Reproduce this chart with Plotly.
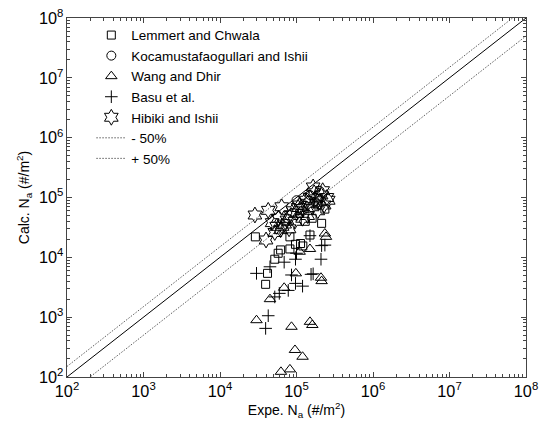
import plotly.graph_objects as go

# ---- data ----
lemmert_x = [29e3, 82e3, 97e3, 121e3, 62e3, 82e3, 57.6e3, 52e3, 41.8e3, 39.5e3,
             213e3, 150e3, 235e3, 110e3, 160e3, 190e3, 130e3, 113e3]
lemmert_y = [22e3, 22e3, 16.5e3, 15.5e3, 13.3e3, 13.8e3, 11.7e3, 9.3e3, 5.4e3, 3.54e3,
             37e3, 23.6e3, 64e3, 54e3, 45e3, 75e3, 40e3, 17e3]

koca_x = [100e3, 150e3, 200e3, 180e3, 120e3]
koca_y = [90e3, 110e3, 130e3, 80e3, 60e3]

wang_x = [30e3, 86e3, 150e3, 161e3, 95.5e3, 120e3, 62.6e3, 82e3, 45e3, 69e3,
          98e3, 209e3, 213e3, 110e3, 150e3, 243e3, 235e3]
wang_y = [890, 690, 835, 740, 283, 218, 122, 134, 2000, 3100,
          5400, 4560, 4000, 12.4e3, 13.8e3, 22e3, 25e3]

basu_x = [42.7e3, 39.5e3, 52e3, 59.6e3, 78e3, 97e3, 120e3, 30e3, 86e3, 155e3,
          165e3, 45e3, 69e3, 97e3, 100e3, 213e3, 209e3, 150e3, 235e3]
basu_y = [1057, 650, 2180, 2500, 2800, 3670, 3300, 5400, 5070, 5200,
          5300, 6950, 8300, 9300, 11.7e3, 15.7e3, 9300, 23e3, 16e3]

hibiki_x = [28.6e3, 42.7e3, 64e3, 40e3, 48e3, 55e3, 62e3, 70e3, 75e3, 52e3,
            58e3, 85e3, 90e3, 100e3, 110e3, 120e3, 130e3, 140e3, 150e3, 160e3,
            170e3, 180e3, 200e3, 210e3, 230e3, 250e3, 260e3, 140e3, 120e3, 95e3,
            80e3, 190e3, 165e3, 65e3, 105e3, 220e3]
hibiki_y = [51e3, 61e3, 70e3, 19.5e3, 38e3, 33e3, 29e3, 36e3, 42e3, 26e3,
            45e3, 50e3, 60e3, 55e3, 75e3, 65e3, 90e3, 80e3, 100e3, 70e3,
            120e3, 95e3, 85e3, 110e3, 75e3, 100e3, 90e3, 50e3, 45e3, 40e3,
            30e3, 60e3, 150e3, 33e3, 68e3, 130e3]

line_x = [1e2, 1e8]
minus_factor = 0.5
plus_factor = 1.5

FONT = "Liberation Sans, Arial, sans-serif"
mk_line = dict(color="black", width=1)
DOTS = "1.5px,1.5px"

fig = go.Figure()

fig.add_trace(go.Scatter(x=lemmert_x, y=lemmert_y, mode="markers", name="Lemmert and Chwala",
                         marker=dict(symbol="square-open", size=8, color="black", line=mk_line)))
fig.add_trace(go.Scatter(x=koca_x, y=koca_y, mode="markers", name="Kocamustafaogullari and Ishii",
                         marker=dict(symbol="circle-open", size=9, color="black", line=mk_line)))
fig.add_trace(go.Scatter(x=wang_x, y=wang_y, mode="markers", name="Wang and Dhir",
                         marker=dict(symbol="triangle-up-open", size=10, color="black", line=mk_line)))
fig.add_trace(go.Scatter(x=basu_x, y=basu_y, mode="markers", name="Basu et al.",
                         marker=dict(symbol="cross-thin-open", size=9, color="black", line=mk_line)))
fig.add_trace(go.Scatter(x=hibiki_x, y=hibiki_y, mode="markers", name="Hibiki and Ishii",
                         marker=dict(symbol="hexagram-open", size=12, color="black", line=mk_line)))

fig.add_trace(go.Scatter(x=line_x, y=line_x, mode="lines", showlegend=False,
                         line=dict(color="black", width=1)))
fig.add_trace(go.Scatter(x=line_x, y=[v * minus_factor for v in line_x], mode="lines", name="- 50%",
                         line=dict(color="#333", width=0.8, dash=DOTS)))
fig.add_trace(go.Scatter(x=line_x, y=[v * plus_factor for v in line_x], mode="lines", name="+ 50%",
                         line=dict(color="#333", width=0.8, dash=DOTS)))

axis_common = dict(
    type="log", range=[2, 8], dtick=1, exponentformat="power",
    showline=True, linecolor="#444", linewidth=1, mirror="allticks",
    ticks="inside", ticklen=5, tickcolor="#444",
    showgrid=False, zeroline=False, ticklabeloverflow="allow", automargin=False,
    tickfont=dict(family=FONT, size=13, color="black"),
    minor=dict(ticks="inside", ticklen=3, dtick="D1", tickcolor="#444", showgrid=False),
)

fig.update_layout(
    width=542, height=427,
    margin=dict(l=67, r=16, t=18, b=50),
    paper_bgcolor="white", plot_bgcolor="white",
    font=dict(family=FONT, size=13, color="black"),
    xaxis=dict(axis_common, title=dict(text="Expe. N<sub>a</sub> (#/m<sup>2</sup>)",
                                       font=dict(family=FONT, size=14), standoff=6)),
    yaxis=dict(axis_common, title=dict(text="Calc. N<sub>a</sub> (#/m<sup>2</sup>)",
                                       font=dict(family=FONT, size=14), standoff=6)),
    legend=dict(x=0.053, y=0.995, xanchor="left", yanchor="top",
                bgcolor="rgba(0,0,0,0)", borderwidth=0,
                font=dict(family=FONT, size=13.5, color="black")),
)

fig.write_html("out.html",
               config={"displayModeBar": False},
               post_script="document.body.style.margin='0';"
                           "document.body.style.overflow='hidden';"
                           "document.documentElement.style.overflow='hidden';")
